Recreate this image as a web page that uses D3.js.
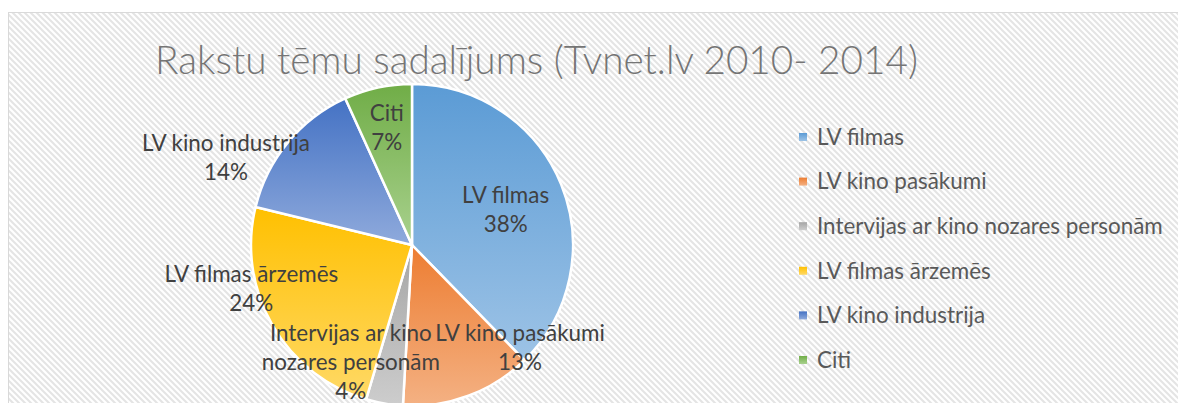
<!DOCTYPE html>
<html><head><meta charset="utf-8">
<script src="https://cdn.jsdelivr.net/npm/d3@7"></script>
<style>html,body{margin:0;padding:0;background:#fff;overflow:hidden}</style>
</head><body>
<svg id="chart" width="1178" height="403"></svg>
<script>
const title = "Rakstu tēmu sadalījums (Tvnet.lv 2010- 2014)";
const categories = ["LV filmas","LV kino pasākumi","Intervijas ar kino nozares personām","LV filmas ārzemēs","LV kino industrija","Citi"];
const values = [37.7, 13.2, 3.7, 24.2, 14.4, 6.8];
const percentLabels = ["38%","13%","4%","24%","14%","7%"];
const labelLines = [["LV filmas"],["LV kino pasākumi"],["Intervijas ar kino","nozares personām"],["LV filmas ārzemēs"],["LV kino industrija"],["Citi"]];
const colorsTop = ["#5B9BD5","#ED7D31","#A5A5A5","#FFC000","#4472C4","#70AD47"];
const colorsBottom = ["#9DC3E6","#F4B183","#CDCDCD","#FFD966","#8FAADC","#A9D18E"];
// layout nudges for data labels (px, relative to point at 100px along slice mid-angle)
const labelNudge = [[1,2],[73,9],[-44,18.5],[-74,-6],[-109,-24],[-4,-20]];

const svg = d3.select("#chart");
const FONT = "Lato, 'Open Sans', sans-serif";
const defs = svg.append("defs");

// hatch pattern
const pat = defs.append("pattern").attr("id","hatch").attr("patternUnits","userSpaceOnUse")
  .attr("width",6).attr("height",6);
pat.append("rect").attr("width",6).attr("height",6).attr("fill","#fff");
pat.append("path").attr("d","M-1,-1 L7,7 M-1,5 L1,7 M5,-1 L7,1").attr("stroke","#e4e4e4").attr("stroke-width",2);

// chart area
svg.append("rect").attr("x",8.5).attr("y",12.5).attr("width",1180).attr("height",400)
  .attr("fill","url(#hatch)").attr("stroke","#d9d9d9").attr("stroke-width",1);

// font fitting helper
function fitSize(text, targetW, weight){
  const t = svg.append("text").attr("font-family",FONT).attr("font-size",100).attr("font-weight",weight||400).text(text);
  const w = t.node().getComputedTextLength(); t.remove();
  return 100*targetW/w;
}
const titleSize = fitSize(title, 763, 300);
const labelSize = fitSize(categories[2], 346, 400);

svg.append("text").attr("x",536.5).attr("y",74).attr("text-anchor","middle")
  .attr("font-family",FONT).attr("font-weight",300).attr("font-size",titleSize)
  .attr("fill","#757575").text(title);

// gradients
categories.forEach((c,i)=>{
  const g = defs.append("linearGradient").attr("id","g"+i).attr("x1",0).attr("y1",0).attr("x2",0).attr("y2",1);
  g.append("stop").attr("offset","0%").attr("stop-color",colorsTop[i]);
  g.append("stop").attr("offset","100%").attr("stop-color",colorsBottom[i]);
});

const cx = 412, cy = 245, R = 161;
const pie = d3.pie().sort(null).value(d=>d).startAngle(0).endAngle(2*Math.PI);
const arcs = pie(values);
const arc = d3.arc().innerRadius(0).outerRadius(R);
const g = svg.append("g").attr("transform",`translate(${cx},${cy})`);
g.selectAll("path").data(arcs).join("path")
  .attr("d",arc).attr("fill",(d,i)=>`url(#g${i})`)
  .attr("stroke","#fff").attr("stroke-width",2.5).attr("stroke-linejoin","round");

// data labels
const lineH = 29;
arcs.forEach((d,i)=>{
  const a = (d.startAngle+d.endAngle)/2;
  const x = Math.sin(a)*100 + labelNudge[i][0];
  const y = -Math.cos(a)*100 + labelNudge[i][1];
  const lines = labelLines[i].concat([percentLabels[i]]);
  const t = g.append("text").attr("text-anchor","middle").attr("font-family",FONT)
    .attr("font-size",labelSize).attr("fill","#404040");
  lines.forEach((ln,k)=>{
    t.append("tspan").attr("x",x).attr("y", y + (k-(lines.length-1)/2)*lineH).attr("dy","0.35em").text(ln);
  });
});

// legend
const legY = d3.scalePoint().domain(categories).range([137,360]);
const leg = svg.append("g");
categories.forEach((c,i)=>{
  leg.append("rect").attr("x",799).attr("y",legY(c)-4).attr("width",8).attr("height",8).attr("fill",`url(#g${i})`);
  leg.append("text").attr("x",817).attr("y",legY(c)).attr("dy","0.35em").attr("font-family",FONT)
    .attr("font-size",labelSize).attr("fill","#595959").text(c);
});
</script>
</body></html>
